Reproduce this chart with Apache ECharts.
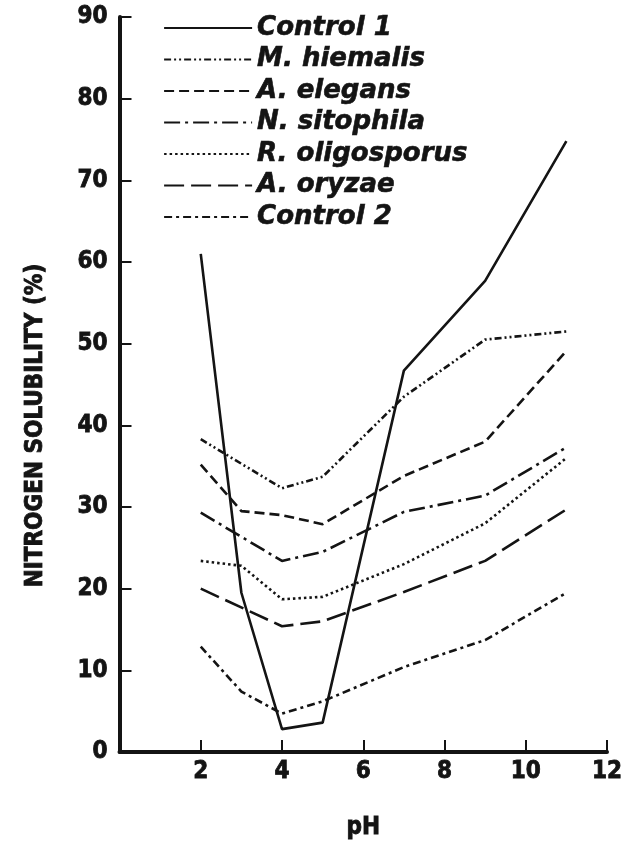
<!DOCTYPE html>
<html>
<head>
<meta charset="utf-8">
<script src="https://cdn.jsdelivr.net/npm/echarts@6/dist/echarts.min.js"></script>
<style>
  html, body { margin: 0; padding: 0; background: #fff; }
  #chart { width: 634px; height: 841px; }
</style>
</head>
<body>
<div id="chart"></div>
<script>
// pH values at which solubility was measured (null = not measured for that series)
const phValues     = [2, 3, 4, 5, 7, 9, 11];
const control1     = [61.0, 19.5, 2.8, 3.6, 46.7, 57.7, 74.8];
const mHiemalis    = [38.3, null, 32.3, 33.7, 43.5, 50.5, 51.5];
const aElegans     = [35.2, 29.5, 29.0, 27.9, 33.8, 38.0, 49.1];
const nSitophila   = [29.3, null, 23.4, 24.5, 29.4, 31.4, 37.3];
const rOligosporus = [23.4, 22.8, 18.7, 19.0, 23.0, 28.0, 36.0];
const aOryzae      = [20.0, null, 15.4, 16.0, 19.6, 23.4, 29.7];
const control2     = [12.9, 7.4, 4.7, 6.2, 10.4, 13.7, 19.5];

const seriesNames = ['Control 1', 'M. hiemalis', 'A. elegans', 'N. sitophila',
                     'R. oligosporus', 'A. oryzae', 'Control 2'];
const yTicks = [0, 10, 20, 30, 40, 50, 60, 70, 80, 90];
const xTicks = [2, 4, 6, 8, 10, 12];

const ink = '#141414';
const dashes = [
  'solid',
  [7, 3, 2, 3, 2, 3],
  [10, 5],
  [16, 5, 3, 5],
  [2.5, 3],
  [20, 7],
  [8, 4, 3, 4]
];
const valueSets = [control1, mHiemalis, aElegans, nSitophila, rOligosporus, aOryzae, control2];

const axisFont = 'DejaVu Sans Condensed, DejaVu Sans, sans-serif';
// heavy type: bold face plus a thin outline in the same ink
const heavyText = {
  fontFamily: axisFont, fontWeight: 'bold', fontSize: 24, color: ink,
  textBorderColor: ink, textBorderWidth: 0.8
};

const series = seriesNames.map((name, i) => ({
  name: name,
  type: 'line',
  symbol: 'none',
  connectNulls: true,
  silent: true,
  animation: false,
  data: phValues.map((p, k) => [p, valueSets[i][k]]),
  lineStyle: { color: ink, width: 2.6, type: dashes[i], cap: 'butt' },
  itemStyle: { color: ink }
}));

const chart = echarts.init(document.getElementById('chart'), null, { renderer: 'canvas' });
chart.setOption({
  backgroundColor: '#fff',
  animation: false,
  grid: {
    left: 119.5, right: 27, top: 17, bottom: 89,
    containLabel: false,
    outerBoundsMode: 'none'
  },
  legend: {
    orient: 'vertical',
    left: 158,
    top: 9,
    itemWidth: 88,
    itemHeight: 14,
    itemGap: 3.5,
    selectedMode: false,
    data: seriesNames,
    itemStyle: { opacity: 0, borderWidth: 0 },
    lineStyle: { width: 2.2 },
    textStyle: {
      fontFamily: 'DejaVu Sans, sans-serif',
      fontStyle: 'italic',
      fontWeight: 'bold',
      fontSize: 26,
      lineHeight: 28,
      color: ink,
      textBorderColor: ink,
      textBorderWidth: 0.6
    }
  },
  xAxis: {
    type: 'value',
    min: 0,
    max: 12,
    interval: 2,
    name: 'pH',
    nameLocation: 'middle',
    nameGap: 64,
    nameTextStyle: heavyText,
    axisLine: { lineStyle: { color: ink, width: 4 } },
    axisTick: { inside: true, length: 12, lineStyle: { color: ink, width: 2 } },
    axisLabel: Object.assign({
      margin: 8,
      formatter: v => (xTicks.indexOf(v) >= 0 ? String(v) : '')
    }, heavyText),
    splitLine: { show: false }
  },
  yAxis: {
    type: 'value',
    min: 0,
    max: 90,
    interval: 10,
    offset: 4,
    name: 'NITROGEN SOLUBILITY (%)',
    nameLocation: 'middle',
    nameGap: 68,
    nameTextStyle: Object.assign({ padding: [0, 82, 0, 0] }, heavyText),
    axisLine: { lineStyle: { color: ink, width: 4 } },
    axisTick: { inside: true, length: 12, lineStyle: { color: ink, width: 2 } },
    axisLabel: Object.assign({
      margin: 8,
      formatter: v => (yTicks.indexOf(v) >= 0 ? String(v) : '')
    }, heavyText),
    splitLine: { show: false }
  },
  series: series
});
</script>
</body>
</html>
